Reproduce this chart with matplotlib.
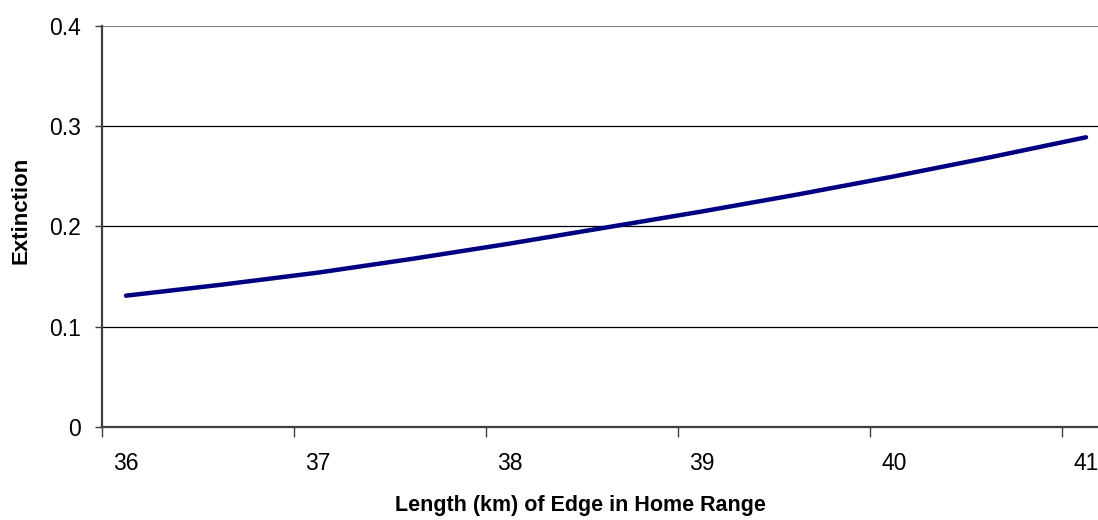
import matplotlib
matplotlib.use("Agg")
import matplotlib.pyplot as plt
import numpy as np

plt.rcParams['font.family'] = ['Liberation Sans', 'DejaVu Sans']

edge_km = [36.0, 36.5, 37.0, 37.5, 38.0, 38.5, 39.0, 39.5, 40.0, 40.5, 41.0]
extinction = [0.131, 0.142, 0.154, 0.168, 0.183, 0.199, 0.215, 0.232, 0.250, 0.269, 0.289]
x_tick_labels = [36, 37, 38, 39, 40, 41]
y_ticks = [0, 0.1, 0.2, 0.3, 0.4]

W, H = 1098, 520
fig = plt.figure(figsize=(W / 100, H / 100), dpi=100)
ax = fig.add_axes([102/W, 1 - 427/H, 996/W, 401/H])

for yv in y_ticks[1:]:
    ax.axhline(yv, color='#808080' if yv == 0.4 else '#000000', lw=1.5 if yv == 0.4 else 0.9, zorder=1)

ax.plot(edge_km, extinction, color='#000080', lw=3.2, solid_capstyle='round', solid_joinstyle='round', zorder=3)

ax.set_xlim(35.875, 41.0625)
ax.set_ylim(0, 0.4)

# tick marks between labels (category axis style)
ax.set_xticks([v - 0.125 for v in x_tick_labels])
ax.set_xticklabels([])
ax.set_xticks(x_tick_labels, minor=True)
ax.set_xticklabels([str(v) for v in x_tick_labels], minor=True)
ax.tick_params(axis='x', which='major', direction='out', length=7, width=1, color='#404040')
ax.tick_params(axis='x', which='minor', length=0, pad=18, labelsize=16.5)

ax.set_yticks(y_ticks)
ax.set_yticklabels(['0', '0.1', '0.2', '0.3', '0.4'])
ax.tick_params(axis='y', direction='out', length=5, width=1, color='#404040', labelsize=16.5, pad=10)

for s in ['top', 'right']:
    ax.spines[s].set_visible(False)
for s in ['left', 'bottom']:
    ax.spines[s].set_color('#404040')
    ax.spines[s].set_linewidth(1.6)

fig.text(580/W, 1 - 505/H, 'Length (km) of Edge in Home Range', fontsize=15.5,
         fontweight='bold', ha='center', va='center')
fig.text(21/W, 1 - 210/H, 'Extinction', fontsize=16, fontweight='bold',
         ha='center', va='center', rotation=90)

fig.savefig('out.png', dpi=100)
